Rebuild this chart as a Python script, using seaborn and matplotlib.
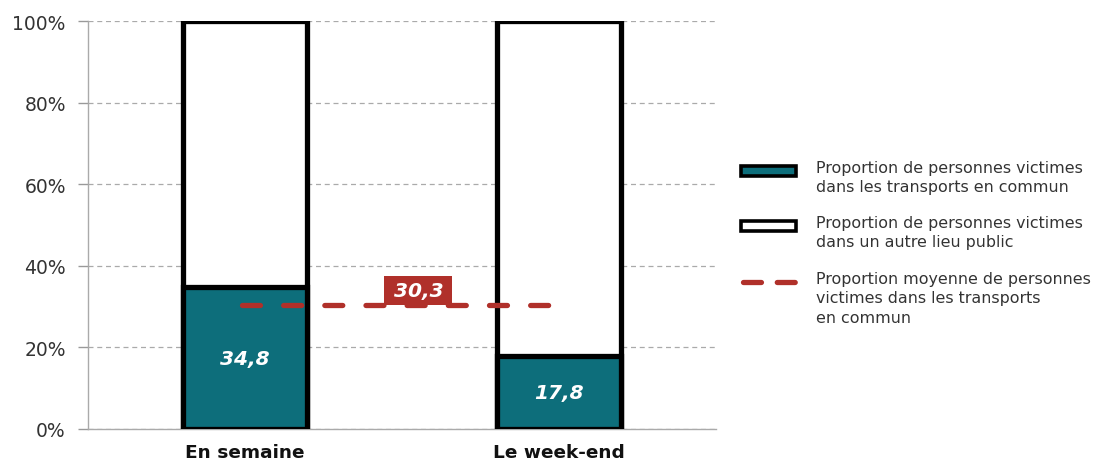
import matplotlib
matplotlib.use("Agg")
import matplotlib.pyplot as plt
import matplotlib.patches as mpatches
from matplotlib.lines import Line2D
import pandas as pd
import seaborn as sns

# data
categories = ["En semaine", "Le week-end"]
transports = [34.8, 17.8]
total = [100, 100]
moyenne = 30.3
value_labels = ["34,8", "17,8"]
moyenne_label = "30,3"
legend_labels = [
    "Proportion de personnes victimes\ndans les transports en commun",
    "Proportion de personnes victimes\ndans un autre lieu public",
    "Proportion moyenne de personnes\nvictimes dans les transports\nen commun",
]

TEAL = "#0D6E7B"
RED = "#B0302A"
W, H = 1094, 464

df = pd.DataFrame({"cat": categories, "transports": transports, "total": total})

sns.set_style("white")
plt.rcParams["font.family"] = ["DejaVu Sans"]

fig = plt.figure(figsize=(W / 100, H / 100), dpi=100)
ax = fig.add_axes([88 / W, 1 - 430 / H, 628 / W, 408 / H])

sns.barplot(data=df, x="cat", y="total", color="white", width=0.395,
            edgecolor="black", linewidth=3.8, saturation=1, ax=ax, zorder=3)
sns.barplot(data=df, x="cat", y="transports", color=TEAL, width=0.395,
            edgecolor="black", linewidth=3.8, saturation=1, ax=ax, zorder=3)

# value labels in the teal segments
for i, (v, lab) in enumerate(zip(transports, value_labels)):
    ax.text(i, v / 2, lab, color="white", fontsize=14.5, fontweight="bold",
            fontstyle="italic", ha="center", va="center", zorder=5)

# average line with its label box
ax.plot([-0.01, 0.975], [moyenne, moyenne], color=RED, linewidth=3.8,
        dashes=(3.4, 4.4), dash_capstyle="round", zorder=4)
ax.add_patch(mpatches.Rectangle((0.443, moyenne), 0.216, 7.2, facecolor=RED,
                                edgecolor="none", zorder=5))
ax.text(0.553, moyenne + 3.7, moyenne_label, color="white", fontsize=14.5,
        fontweight="bold", fontstyle="italic", ha="center", va="center", zorder=6)

ax.set_xlim(-0.5, 1.5)
ax.set_ylim(0, 100)
ax.set_yticks([0, 20, 40, 60, 80, 100])
ax.set_yticklabels(["0%", "20%", "40%", "60%", "80%", "100%"])
ax.set_xlabel("")
ax.set_ylabel("")
ax.set_xticks([0, 1])
ax.set_xticklabels(categories, fontweight="bold", fontsize=13.3, color="#111111")
ax.set_xticks([-0.5, 0.5, 1.5], minor=True)
ax.tick_params(axis="x", which="major", length=0, pad=10)
ax.tick_params(axis="x", which="minor", length=7, width=1, color="#999999", direction="out")
ax.tick_params(axis="y", length=7, width=1, color="#999999", labelsize=13.5,
               labelcolor="#333333", pad=9, left=True)

ax.grid(axis="y", linestyle=(0, (4, 3)), color="#aaaaaa", linewidth=0.9, zorder=0)
ax.set_axisbelow(True)
for s in ["top", "right"]:
    ax.spines[s].set_visible(False)
for s in ["left", "bottom"]:
    ax.spines[s].set_color("#aaaaaa")
    ax.spines[s].set_linewidth(1)

# legend drawn by hand so each key lines up with the first text line
tf = fig.transFigure
key_y = [172, 227, 283]
fig.patches.append(mpatches.Rectangle((741 / W, 1 - 177 / H), 55 / W, 10 / H,
                                      facecolor=TEAL, edgecolor="black",
                                      linewidth=2.6, transform=tf))
fig.patches.append(mpatches.Rectangle((741 / W, 1 - 232 / H), 55 / W, 10 / H,
                                      facecolor="white", edgecolor="black",
                                      linewidth=2.6, transform=tf))
fig.lines.append(Line2D([743 / W, 795 / W], [1 - 283 / H, 1 - 283 / H],
                        color=RED, linewidth=3.8, dashes=(3.4, 3.0),
                        dash_capstyle="round", transform=tf))
for y, lab in zip(key_y, legend_labels):
    fig.text(816 / W, 1 - (y - 11) / H, lab, fontsize=11.4, color="#333333",
             ha="left", va="top", linespacing=1.36)

fig.savefig("out.png", dpi=100)
